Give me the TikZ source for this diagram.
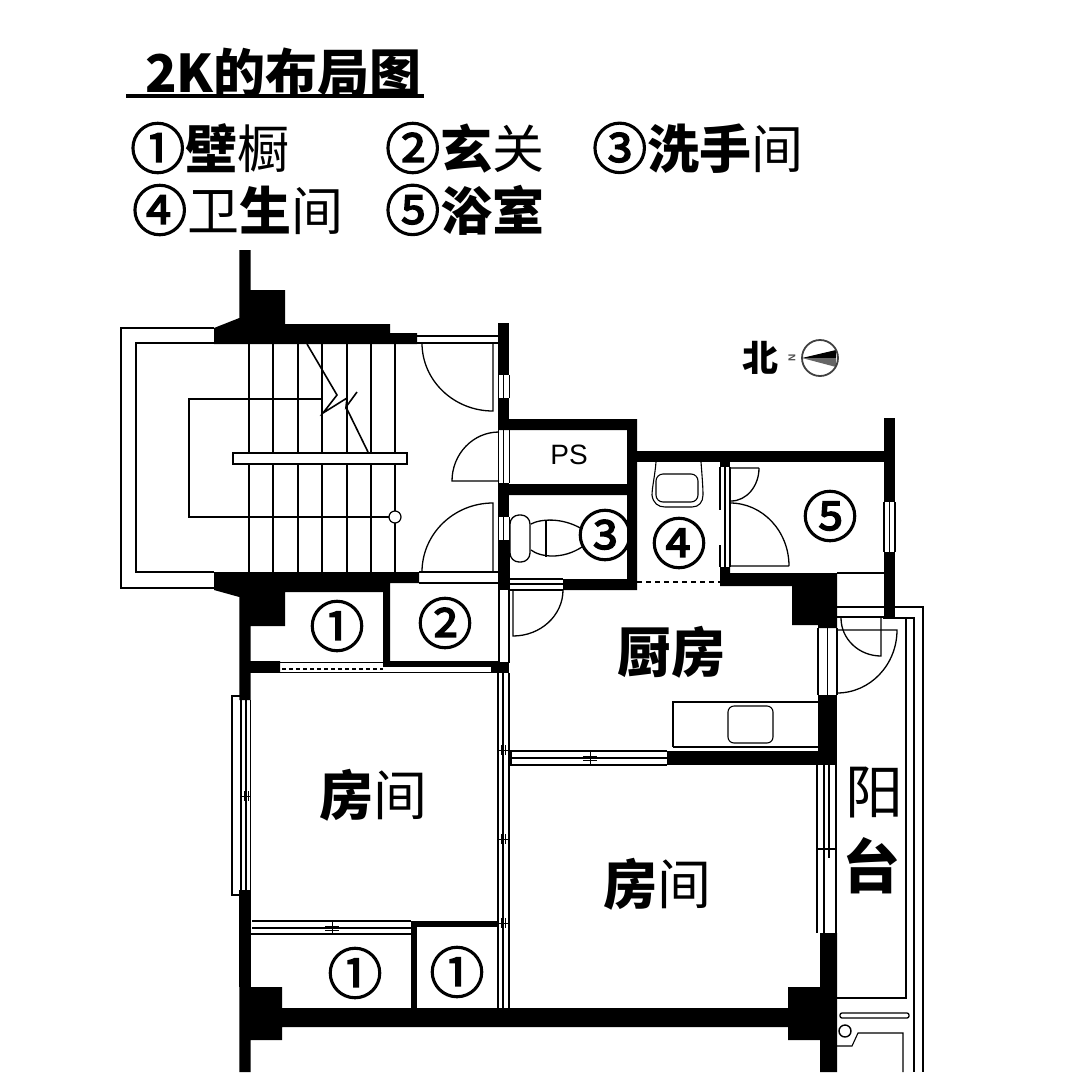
\documentclass[tikz,border=0pt]{standalone}
\usepackage{fontspec}
\setmainfont{Liberation Sans}
\newfontfamily\cjk{Noto Sans CJK SC}
\newfontfamily\cjkmark[FakeBold=2.5]{Noto Sans CJK SC}
\tikzset{
    wall/.style={fill=black,draw=none},
    thinline/.style={draw=black,line width=1.1pt},
    hairline/.style={draw=black,line width=0.8pt},
    doorleaf/.style={draw=black,line width=1.3pt},
    legendtext/.style={inner sep=0pt,anchor=west,font=\cjk\fontsize{52}{52}\selectfont},
    roomtext/.style={inner sep=0pt,font=\cjk\fontsize{54}{54}\selectfont},
    balconytext/.style={inner sep=0pt,font=\cjk\fontsize{58}{58}\selectfont},
}
% glass strip in a wall, x from #1 to #3, y from #4 to #5
\newcommand{\glassv}[5]{\draw[thinline] (#1,#4) -- (#1,#5) (#2,#4) -- (#2,#5) (#3,#4) -- (#3,#5);}
\newcommand{\circnum}[1]{{\cjkmark\fontsize{55}{55}\selectfont #1}}
\begin{document}
\begin{tikzpicture}[x=1pt,y=-1pt]
    \useasboundingbox (0,0) rectangle (1080,1080);
    % heading and legend
    \node[legendtext] (title) at (145,73) {\bfseries 2K的布局图};
    \draw[line width=4pt] (126,96) -- (424,96);
    \node[legendtext] (wardrobe) at (130,148) {\circnum{①}\textbf{壁}橱};
    \node[legendtext] (entry) at (385,148) {\circnum{②}\textbf{玄}关};
    \node[legendtext] (washroom) at (592,148) {\circnum{③}\textbf{洗手}间};
    \node[legendtext] (wc) at (132,210) {\circnum{④}卫\textbf{生}间};
    \node[legendtext] (bath) at (385,210) {\circnum{⑤}\textbf{浴室}};
    % stair hall walls
    \filldraw[wall] (239.3,250) -- (250.7,250) -- (250.7,290) -- (285,290) -- (285,324) -- (390,324) -- (390,333) -- (417,333) -- (417,344) -- (214,344) -- (214,328) -- (239.3,318) -- cycle;
    \filldraw[wall] (214,572) -- (419,572) -- (419,583) -- (390,583) -- (390,661) -- (383,661) -- (383,592) -- (285,592) -- (285,626) -- (250.7,626) -- (250.7,661) -- (280,661) -- (280,672.7) -- (250.7,672.7) -- (250.7,700) -- (239.3,700) -- (239.3,597) -- (214,590) -- cycle;
    \filldraw[wall] (239.3,890) rectangle (250.7,987);
    \filldraw[wall] (239.3,987) -- (282,987) -- (282,1008) -- (788,1008) -- (788,987) -- (820,987) -- (820,933) -- (837,933) -- (837,1072) -- (820,1072) -- (820,1040) -- (788,1040) -- (788,1027) -- (282,1027) -- (282,1040) -- (250.7,1040) -- (250.7,1072) -- (239.3,1072) -- cycle;
    % stairs
    \draw[thinline] (214,328) -- (121,328) -- (121,588) -- (214,588);
    \draw[thinline] (214,343) -- (136,343) -- (136,572) -- (214,572);
    \foreach \xstep in {248.7,273.3,297.7,322,346.7,371,395.3}
        \draw[draw=black,line width=1.8pt] (\xstep,344) -- (\xstep,572);
    \draw[thinline] (322,399) -- (189,399) -- (189,517) -- (389,517);
    \filldraw[fill=white,draw=black,line width=1.6pt] (233,453) rectangle (407,464);
    \filldraw[fill=white,draw=black,line width=1.2pt] (395,517) circle (6);
    \draw[line width=1.6pt] (307,344) -- (337,395) -- (323,413) -- (347,398) -- (346,407) -- (357,392);
    \draw[line width=1.6pt] (346,407) -- (368,452);
    % hall doors
    \draw[thinline] (417,336) -- (498,336) (417,343) -- (498,343);
    \draw[thinline] (419,572) -- (498,572) (419,583) -- (498,583);
    \draw[doorleaf] (493,343) -- (493,411) arc[start angle=90,end angle=180,x radius=71,y radius=68];
    \draw[doorleaf] (499,481) -- (452,481) arc[start angle=180,end angle=270,x radius=47,y radius=49];
    \draw[doorleaf] (493,572) -- (493,503) arc[start angle=270,end angle=180,x radius=71,y radius=69];
    % wall behind the hall
    \filldraw[wall] (498.3,323) rectangle (509.3,375);
    \filldraw[wall] (498.3,398) rectangle (509.3,430);
    \filldraw[wall] (498.3,483) rectangle (509.3,517);
    \filldraw[wall] (498.3,540) rectangle (510,590);
    \glassv{498.3}{503.8}{509.3}{375}{398}
    \glassv{498.3}{503.8}{509.3}{430}{483}
    \glassv{498.3}{503.8}{509.3}{517}{540}
    % PS and washroom
    \filldraw[wall] (498.3,419) -- (637,419) -- (637,590) -- (563,590) -- (563,579) -- (627,579) -- (627,495) -- (509,495) -- (509,484) -- (627,484) -- (627,430) -- (498.3,430) -- cycle;
    \draw[thinline] (510,579) -- (563,579) (510,584) -- (563,584) (510,590) -- (563,590);
    \draw[doorleaf] (513,590) -- (513,636) arc[start angle=90,end angle=0,x radius=50,y radius=46];
    % toilet
    \filldraw[fill=white,draw=black,line width=1.3pt,rounded corners=9pt] (510,515) rectangle (530,562);
    \draw[doorleaf] (531,524) .. controls (540,519) and (562,517) .. (582,529);
    \draw[doorleaf] (531,550) .. controls (540,557) and (562,560) .. (582,547);
    \draw[thinline] (546,521) -- (546,557);
    % wc and bath
    \filldraw[wall] (637,451) rectangle (884,462);
    \filldraw[wall] (884,418) rectangle (895,502);
    \filldraw[wall] (884,552) rectangle (895,617);
    \glassv{884}{889.5}{895}{502}{552}
    \filldraw[wall] (720,462) rectangle (730,467);
    \filldraw[wall] (720,567) -- (730,567) -- (730,573) -- (837,573) -- (837,628) -- (818,628) -- (818,625) -- (792,625) -- (792,586) -- (720,586) -- cycle;
    \draw[thinline] (720,467) -- (720,510) (720,545) -- (720,567) (725,467) -- (725,567) (730,467) -- (730,567);
    \draw[line width=2pt,dash pattern=on 5pt off 4pt] (637,581.5) -- (720,581.5);
    \draw[thinline] (656,462) .. controls (655,475) and (652,488) .. (652,495) .. controls (653,503) and (658,507) .. (665,507) -- (692,507) .. controls (699,507) and (703,502) .. (703,495) .. controls (703,487) and (702,475) .. (701,462);
    \draw[thinline,rounded corners=7pt] (656,474) rectangle (698,502);
    \draw[doorleaf] (759,468) -- (731,468) (759,468) arc[start angle=0,end angle=90,x radius=28,y radius=33];
    \draw[doorleaf] (789,566) -- (730,566) (789,566) arc[start angle=0,end angle=-90,x radius=59,y radius=63];
    \draw[thinline] (837,573) -- (884,573);
    % balcony
    \draw[thinline] (837,607) -- (884,607) (837,617) -- (884,617);
    \draw[thinline] (895,607) -- (923,607) -- (923,1072);
    \draw[thinline] (883,618) -- (914,618) -- (914,1072);
    \draw[thinline] (906,618) -- (906,998) -- (837,998);
    \draw[doorleaf] (881,618) -- (881,656) arc[start angle=90,end angle=180,x radius=40,y radius=38];
    \draw[doorleaf] (837,630) -- (897,630) arc[start angle=0,end angle=90,x radius=60,y radius=63];
    \filldraw[fill=white,draw=black,line width=1.3pt,rounded corners=2pt] (840,1013) rectangle (909,1018);
    \filldraw[fill=white,draw=black,line width=1.4pt] (845,1031) circle (6);
    \draw[thinline] (837,1046) -- (852,1046) -- (858,1033) -- (903,1033) -- (903,1072);
    % kitchen
    \filldraw[wall] (818,695) rectangle (837,765);
    \filldraw[wall] (667,751) rectangle (818,765);
    \glassv{818}{827.5}{837}{628}{695}
    \draw[thinline] (673,747) -- (673,702) -- (818,702);
    \draw[thinline] (673,747) -- (818,747);
    \draw[thinline,rounded corners=6pt] (728,706) rectangle (773,743);
    \draw[thinline] (510,751) -- (667,751) (510,758) -- (667,758) (510,765) -- (667,765);
    \draw[hairline] (590,752) -- (590,764) (583,756) -- (597,756) (583,760) -- (597,760);
    \filldraw[wall] (509,752) rectangle (512,765);
    \draw[thinline] (499,590) -- (499,663) (509,590) -- (509,663);
    % rooms: partition between them
    \filldraw[wall] (491,661.7) rectangle (509.3,672.7);
    \filldraw[wall] (383,661) rectangle (498,666.5);
    \draw[thinline] (280,662.5) -- (383,662.5) (250,672.7) -- (498,672.7);
    \draw[line width=2pt,dash pattern=on 4pt off 3pt] (282,669) -- (383,669);
    \draw[thinline] (498,673) -- (498,1008) (503,673) -- (503,1008) (509,673) -- (509,1008);
    \foreach \ytick in {750,839,923}
        \draw[hairline] (498,\ytick) -- (509,\ytick) (501,\ytick-5) -- (501,\ytick+5) (505,\ytick-5) -- (505,\ytick+5);
    % left window
    \draw[thinline] (241,696) rectangle (232,895);
    \draw[thinline] (241,700) -- (241,890) (246,700) -- (246,890) (250.7,700) -- (250.7,890);
    \draw[hairline] (241,796) -- (251,796) (244,791) -- (244,801) (248,791) -- (248,801);
    % closets under the room
    \filldraw[wall] (411,921) rectangle (498,927);
    \filldraw[wall] (411,921) rectangle (417,1008);
    \draw[thinline] (252,921) -- (411,921) (252,928) -- (411,928) (250,934) -- (411,934);
    \draw[hairline] (332,922) -- (332,933) (325,926) -- (339,926) (325,930) -- (339,930);
    % right room window
    \draw[thinline] (817,765) -- (817,933) (824,765) -- (824,933) (836,765) -- (836,933);
    \draw[thinline] (829,765) -- (829,858) (817,849) -- (836,849);
    % labels
    \node[roomtext] (room1) at (373,795) {\textbf{房}间};
    \node[roomtext] (room2) at (657,884) {\textbf{房}间};
    \node[roomtext] (kitchen) at (671,652) {\textbf{厨房}};
    \node[balconytext] (balconya) at (874,792) {阳};
    \node[balconytext] (balconyb) at (871,866) {\textbf{台}};
    \node[inner sep=0pt,font=\fontsize{28}{28}\selectfont] (ps) at (569,455) {PS};
    \node[roomtext] (mark3) at (605,535) {\circnum{③}};
    \node[roomtext] (mark4) at (679,543) {\circnum{④}};
    \node[roomtext] (mark5) at (830,516) {\circnum{⑤}};
    \node[roomtext] (mark1a) at (337,626) {\circnum{①}};
    \node[roomtext] (mark2) at (445,623) {\circnum{②}};
    \node[roomtext] (mark1b) at (355,973) {\circnum{①}};
    \node[roomtext] (mark1c) at (457,972) {\circnum{①}};
    % north arrow
    \node[inner sep=0pt,font=\cjk\bfseries\fontsize{36}{36}\selectfont] (north) at (760,358) {北};
    \node[inner sep=0pt,rotate=90,text=black!70,font=\bfseries\fontsize{10}{10}\selectfont] (nmark) at (792,358) {N};
    \fill[black] (802,358) -- (836,350) -- (836,358) -- cycle;
    \fill[black!60] (802,358) -- (836,358) -- (836,367) -- cycle;
    \draw[draw=black!75,line width=1.8pt] (820,358) circle (18);
\end{tikzpicture}
\end{document}
